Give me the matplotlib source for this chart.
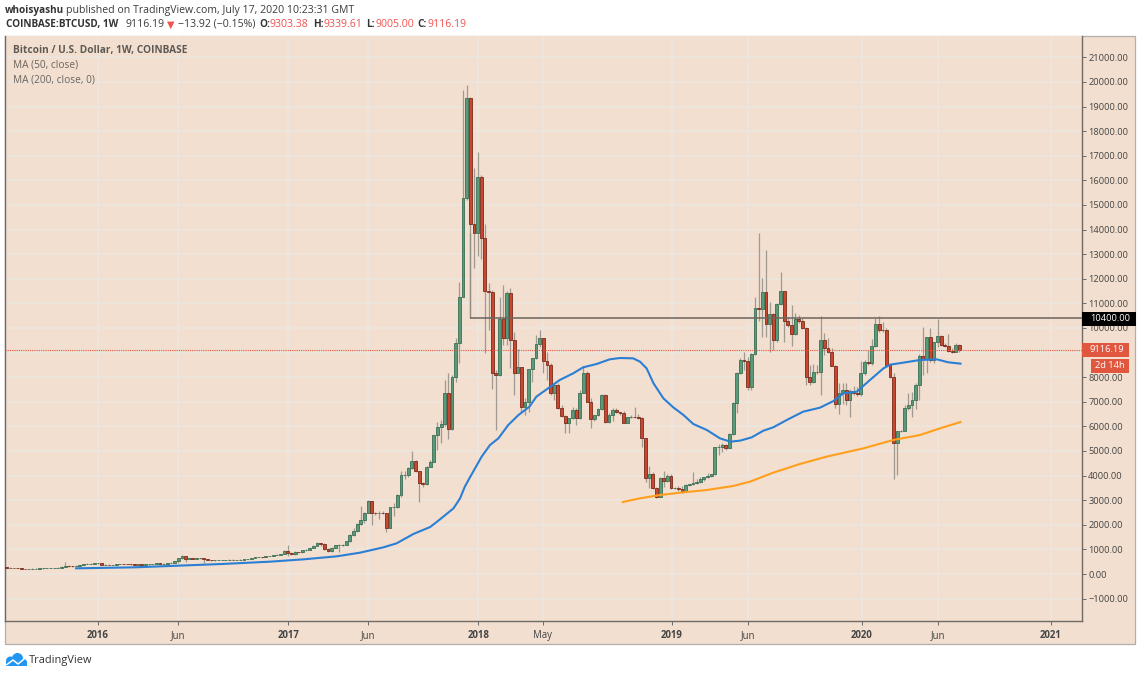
import numpy as np
import matplotlib
matplotlib.use('Agg')
import matplotlib.pyplot as plt
from matplotlib.patches import Rectangle, Circle

plt.rcParams['font.family'] = ['Open Sans', 'DejaVu Sans']

# weekly candles, week 0 is the first week of 2016
first_week = -25
first_open = 265
closes = [
    258,258,244,231,217,205,205,215,215,225,
    228,230,232,240,258,300,330,325,320,340,
    360,395,415,420,430,
    430,375,380,375,375,395,410,405,400,390,
    385,393,385,393,395,407,434,425,425,440,
    450,535,637,745,597,640,625,637,637,610,
    570,556,556,570,570,570,583,570,570,583,
    597,610,651,678,692,678,719,732,
    772,786,813,935,840,813,894,880,962,989,
    1043,1152,1246,1219,1003,948,1070,1165,1179,1192,
    1328,1572,1761,2019,2195,2493,2967,2493,2466,2493,
    2466,1883,2710,2723,3198,4011,4011,4295,4580,4200,
    3712,3645,4363,4566,5650,5962,6097,
    7344,5880,7994,9376,11246,15271,19336,14214,13848,16124,
    13645,11504,11477,8157,8076,10352,9580,11436,9512,8184,
    8401,6802,6978,8320,8767,9336,9580,8672,8496,7344,
    7683,6734,6423,6124,6328,6666,6328,7371,8184,7005,
    6287,6463,6694,7276,6192,6463,6666,6571,6531,6152,
    6368,6395,6368,6328,
    5515,3916,4065,3510,3143,3916,3794,3984,3482,3482,
    3470,3387,3604,3645,3685,3753,3848,3929,3984,4065,
    5149,5162,5257,5135,5677,6965,8157,8699,8672,7615,
    8929,10799,10759,11450,10162,10555,9512,10962,11517,10284,
    10108,9742,10366,10284,10013,8021,7818,8225,8197,9512,
    9173,9011,8469,6897,7371,7480,7073,7452,7344,7330,
    8157,8631,8563,9282,10149,9918,9905,8496,7994,5312,
    5799,5826,6748,6870,7073,7683,8875,8726,9620,8699,
    9417,9688,9309,9268,9078,9038,9303,9116,
]
highs = [
    272,270,262,246,235,222,215,226,228,238,
    240,240,242,252,270,318,480,385,340,350,
    375,415,430,440,450,
    450,440,395,392,385,410,425,425,420,418,
    400,405,398,400,402,412,440,440,432,445,
    470,545,645,780,745,665,650,650,665,640,
    615,578,575,580,585,580,590,590,578,590,
    602,615,660,690,705,710,730,745,
    785,805,830,960,1179,905,925,910,980,1005,
    1060,1185,1290,1270,1240,1060,1090,1180,1200,1215,
    1345,1620,1850,2090,2764,2534,2990,2980,2540,2575,
    2570,2480,2730,2900,3240,4200,4200,4340,4980,4630,
    4200,3720,4390,4640,5660,6190,6260,
    7886,8157,8089,9580,11883,19675,19878,19400,16490,17168,
    16200,14227,11815,11530,8300,11273,11748,11500,11612,9851,
    9133,8420,7141,8330,8790,9715,9918,9600,9038,8564,
    7750,7760,6870,6460,6340,6775,6734,7480,8455,8250,
    7141,6480,6734,7303,7303,6531,6734,6760,6600,6640,
    6395,6463,6800,6490,
    6400,5540,4390,4160,3550,3957,4200,4065,4065,3550,
    3590,3577,3645,3660,4133,3875,3930,3940,4092,4080,
    5176,5284,5339,5284,5718,7010,8225,8767,9038,8807,
    8970,11246,13848,12019,13170,11070,10596,11003,12290,11517,
    10460,10935,10596,10528,10393,10040,8496,8523,8496,10501,
    9783,9580,9173,8480,7750,7778,7750,7520,7642,7615,
    8658,8699,9105,9539,10393,10488,10257,9986,8540,8160,
    5826,5853,6870,7344,7412,7750,8950,10054,9650,9986,
    9444,10366,9715,9377,9756,9173,9404,9340,
]
lows = [
    245,250,240,225,208,196,198,202,208,212,
    222,224,226,230,236,255,290,300,300,310,
    330,355,400,405,415,
    420,360,370,360,365,370,400,400,395,385,
    375,378,378,380,385,390,402,410,415,420,
    435,445,460,605,500,590,610,605,620,450,
    550,540,540,550,560,555,565,555,555,565,
    580,595,605,650,675,660,672,715,
    740,760,780,810,745,780,790,850,870,950,
    985,1040,1150,1140,970,895,900,1060,890,1130,
    1180,1320,1540,1720,2000,2060,2460,1992,2400,2220,
    2440,1707,1860,2370,2670,3130,3880,3960,4280,4160,
    2940,3520,3620,4330,4560,5060,5340,
    6000,5474,5854,7818,8563,11273,15200,10400,12425,12927,
    12791,8970,9918,7507,5853,8048,9309,9309,8360,7276,
    8157,6531,6463,6599,7818,8740,9241,8157,7886,7276,
    7073,6700,6380,5745,5745,6300,6057,6290,7360,6980,
    5921,6230,6440,6680,6124,6124,6200,6530,6465,6124,
    6124,6340,6330,6290,
    5149,3754,3510,3469,3103,3120,3550,3726,3442,3442,
    3387,3306,3319,3577,3618,3658,3685,3794,3900,3929,
    4024,4837,4973,5040,5108,5650,6558,8130,8292,7480,
    7480,8902,10300,9647,9620,9038,9105,9444,10935,9444,
    10054,9268,9715,10190,9946,7683,7683,7750,8150,7276,
    8902,8970,8440,6734,6504,6897,6870,6396,7276,7249,
    7249,8089,8496,8496,9241,9851,9851,8428,7954,3848,
    4024,5772,5800,6666,6396,6694,7073,8089,8157,8631,
    8591,9241,9268,9214,9011,8970,9011,9005,
]
opens = [first_open] + closes[:-1]
opens[-1] = 9303.38

ma50_weeks = [-6, 10, 22, 34, 47.1, 56.3, 65.4, 71.8, 78.2, 81.8, 86.4, 91, 93.7, 97.4, 99.2,
              100.5, 101.9, 103.3, 105.1, 107.4, 109.7, 112.4, 115.2, 118.2, 120.1, 123.3,
              126.5, 130.2, 132.9, 136.6, 140.2, 143, 146.6, 148.5, 150.3, 152.2, 154.9,
              157.6, 160.4, 163.1, 166.8, 170.4, 173.2, 175.9, 179.1, 182.3, 185, 188.7,
              193.2, 197.8, 201.5, 204.2, 207.9, 211.5, 215.2, 217, 220.6, 225.2, 229.8, 233, 236.3]
ma50_values = [231, 271, 339, 407, 501, 596, 718, 867, 1084, 1246, 1626, 1910, 2222, 2669, 3076,
               3550, 3929, 4295, 4769, 5244, 5515, 6057, 6463, 6802, 7208, 7547,
               7886, 8157, 8401, 8536, 8726, 8780, 8767, 8631, 8360, 7750, 7141,
               6775, 6463, 6097, 5854, 5515, 5379, 5420, 5555, 5826, 5962, 6260,
               6599, 6761, 7032, 7344, 7412, 7886, 8360, 8509, 8591, 8699, 8726, 8604, 8550]
ma200_weeks = [143.8, 148.5, 154, 160.4, 166.8, 174, 178.6, 185, 192.3, 199.6, 209.7, 217.9, 225.2, 230.7, 236.3]
ma200_values = [2927, 3076, 3211, 3320, 3415, 3577, 3753, 4119, 4471, 4770, 5108, 5447, 5650, 5921, 6179]

price_ticks = list(range(-1000, 22000, 1000))
time_ticks = [0, 21.9, 52.1, 74, 104.2, 121.9, 157.2, 178, 209.3, 230.1, 261.1]
time_labels = ['2016', 'Jun', '2017', 'Jun', '2018', 'May', '2019', 'Jun', '2020', 'Jun', '2021']

last_price = 9116.19
resistance = 10400
resistance_start = 102

BG = '#f2dfcf'
GRID = '#ede6df'
AXIS = '#6f6a66'
UP_FILL, UP_EDGE = '#5b9a79', '#3a6f54'
DOWN_FILL, DOWN_EDGE = '#c8472f', '#7a2a1b'
RED_TEXT = '#ef5350'
LABEL_RED = '#e0563f'

assert len(closes) == len(highs) == len(lows)

W, H = 1140, 675
fig = plt.figure(figsize=(W / 100, H / 100), dpi=100, facecolor='white')

# pixel layer behind the chart, for the box around price and time scale
back = fig.add_axes([0, 0, 1, 1], zorder=0)
back.set_xlim(0, W)
back.set_ylim(H, 0)
back.axis('off')
back.add_patch(Rectangle((5, 36), 1130, 608, facecolor=BG, edgecolor='#b5aea8', lw=0.9))

ax = fig.add_axes([5 / W, (H - 621) / H, 1077 / W, 585 / H], zorder=1, facecolor=BG)
ax.set_xlim((5 - 98) / 3.65, (1082 - 98) / 3.65)
ax.set_ylim((574 - 621) * 40.65, (574 - 36) * 40.65)

ax.set_axisbelow(True)
ax.grid(True, color=GRID, lw=1.2)
ax.yaxis.tick_right()
ax.set_yticks(price_ticks)
# the 9000 label sits behind the last price tag, so it stays empty
price_labels = ['' if p == 9000 else f'{p:.2f}'.replace('-', '\u2212') for p in price_ticks]
ax.set_yticklabels(price_labels, fontsize=6.7, color='#444444')
ax.set_xticks(time_ticks)
ax.set_xticklabels(time_labels, fontsize=6.9, color='#444444')
for lab in ax.get_xticklabels():
    if lab.get_text().isdigit():
        lab.set_fontweight('bold')
ax.tick_params(axis='y', length=3, width=0.7, color=AXIS, pad=1.5)
ax.tick_params(axis='x', length=3, width=0.7, color=AXIS, pad=3.5)
for name, sp in ax.spines.items():
    sp.set_color(AXIS)
    sp.set_linewidth(1.0)
ax.spines['top'].set_visible(False)

# candles
weeks = np.arange(first_week, first_week + len(closes))
opens_arr, closes_arr = np.array(opens), np.array(closes)
up = closes_arr >= opens_arr
ax.vlines(weeks, lows, highs, color='#84827a', lw=0.9, alpha=0.75, zorder=2)
ax.bar(weeks[up], (closes_arr - opens_arr)[up], bottom=opens_arr[up], width=0.78,
       color=UP_FILL, edgecolor=UP_EDGE, lw=0.6, zorder=3)
ax.bar(weeks[~up], (closes_arr - opens_arr)[~up], bottom=opens_arr[~up], width=0.78,
       color=DOWN_FILL, edgecolor=DOWN_EDGE, lw=0.6, zorder=3)

ax.plot(ma50_weeks, ma50_values, color='#2a7fd5', lw=1.5, zorder=4, solid_joinstyle='round')
ax.plot(ma200_weeks, ma200_values, color='#ff9f1c', lw=1.5, zorder=4, solid_joinstyle='round')

ax.hlines(resistance, resistance_start, ax.get_xlim()[1], color='#6b645e', lw=1.1, zorder=4)
ax.vlines(resistance_start, resistance, 13848, color='#8f8a84', lw=0.9, zorder=2)
ax.axhline(last_price, color=LABEL_RED, lw=0.8, ls=(0, (1, 1)), zorder=4)

# pixel layer on top for header, legend, price labels and logo
top = fig.add_axes([0, 0, 1, 1], zorder=2)
top.set_xlim(0, W)
top.set_ylim(H, 0)
top.axis('off')
top.patch.set_alpha(0)


def px_text(x, y, s, size=7.6, color='#3c3c3c', weight='normal', ha='left', **kw):
    top.text(x, y, s, fontsize=size, color=color, fontweight=weight, ha=ha, va='center', **kw)


px_text(5, 10, 'whoisyashu', weight='bold', color='#333333', size=7.2)
px_text(66, 10, 'published on TradingView.com, July 17, 2020 10:23:31 GMT')
px_text(6, 24.5, 'COINBASE:BTCUSD, 1W', weight='bold', color='#333333', size=7.2)
px_text(125, 24.5, '9116.19')
px_text(170.5, 24.5, '\u25bc', color=RED_TEXT, ha='center', size=7, family='DejaVu Sans')
px_text(178, 24.5, '\u221213.92 (\u22120.15%)')
px_text(259, 24.5, 'O:', weight='bold', color='#333333', size=7.2)
px_text(270, 24.5, '9303.38', color=RED_TEXT)
px_text(313, 24.5, 'H:', weight='bold', color='#333333', size=7.2)
px_text(324, 24.5, '9339.61', color=RED_TEXT)
px_text(366, 24.5, 'L:', weight='bold', color='#333333', size=7.2)
px_text(376, 24.5, '9005.00', color=RED_TEXT)
px_text(417, 24.5, 'C:', weight='bold', color='#333333', size=7.2)
px_text(428, 24.5, '9116.19', color=RED_TEXT)

px_text(13, 50.5, 'Bitcoin / U.S. Dollar, 1W, COINBASE', weight='bold', color='#5f5a56', size=7.3)
px_text(13, 65, 'MA (50, close)', color='#6a6560', size=7.3)
px_text(13, 79.5, 'MA (200, close, 0)', color='#6a6560', size=7.3)

top.add_patch(Rectangle((1082, 312), 53.5, 14, facecolor='black', edgecolor='none'))
px_text(1090, 318.8, '10400.00', color='white', size=6.7)
top.add_patch(Rectangle((1082, 343), 47, 14, facecolor=LABEL_RED, edgecolor='none'))
px_text(1090, 350, '9116.19', color='white', size=6.7)
top.add_patch(Rectangle((1091, 359), 38, 14, facecolor=LABEL_RED, edgecolor='none'))
px_text(1110, 366, '2d 14h', color='white', size=6.7, ha='center')

# logo
logo_blue = '#2196f3'
for cx, cy, r in [(10.5, 661, 4.5), (17.5, 658.5, 5.5), (23.5, 662.5, 3.5)]:
    top.add_patch(Circle((cx, cy), r, facecolor=logo_blue, edgecolor='none'))
top.add_patch(Rectangle((6, 661), 21, 5, facecolor=logo_blue, edgecolor='none'))
top.plot([7, 13, 18, 23.5], [664.5, 660, 664, 659.5], color='white', lw=1.1)
px_text(29, 660, 'TradingView', size=7.9, color='#333333')

fig.savefig('out.png', dpi=100)
